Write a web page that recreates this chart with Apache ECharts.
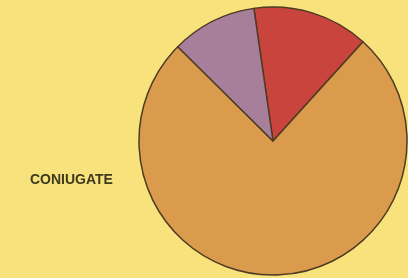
<!DOCTYPE html>
<html>
<head>
<meta charset="utf-8">
<script src="https://cdn.jsdelivr.net/npm/echarts@6/dist/echarts.min.js"></script>
<style>
  html, body { margin: 0; padding: 0; background: #f8e27c; }
  #chart { width: 408px; height: 278px; }
</style>
</head>
<body>
<div id="chart"></div>
<script>
// slices, clockwise from the red one
const categories = ["", "CONIUGATE", ""];
const values = [14, 75.7, 10.3];
const colors = ["#c9443c", "#da9c4c", "#a77f9b"];

const chart = echarts.init(document.getElementById("chart"), null, { renderer: "canvas" });

chart.setOption({
  backgroundColor: "#f8e27c",
  animation: false,
  series: [{
    type: "pie",
    center: [273, 141],
    radius: [0, 134],
    startAngle: 98.2,
    clockwise: true,
    label: { show: false },
    labelLine: { show: false },
    emphasis: { disabled: true },
    itemStyle: { borderColor: "#4d3b22", borderWidth: 1.5 },
    data: categories.map((name, i) => ({
      name: name || "s" + i,
      value: values[i],
      itemStyle: { color: colors[i] }
    }))
  }],
  graphic: [{
    type: "text",
    left: 30,
    top: 173,
    style: {
      text: categories[1],
      font: "bold 14px 'Liberation Sans', Arial, sans-serif",
      fill: "#3d3a1e"
    }
  }]
});
</script>
</body>
</html>
